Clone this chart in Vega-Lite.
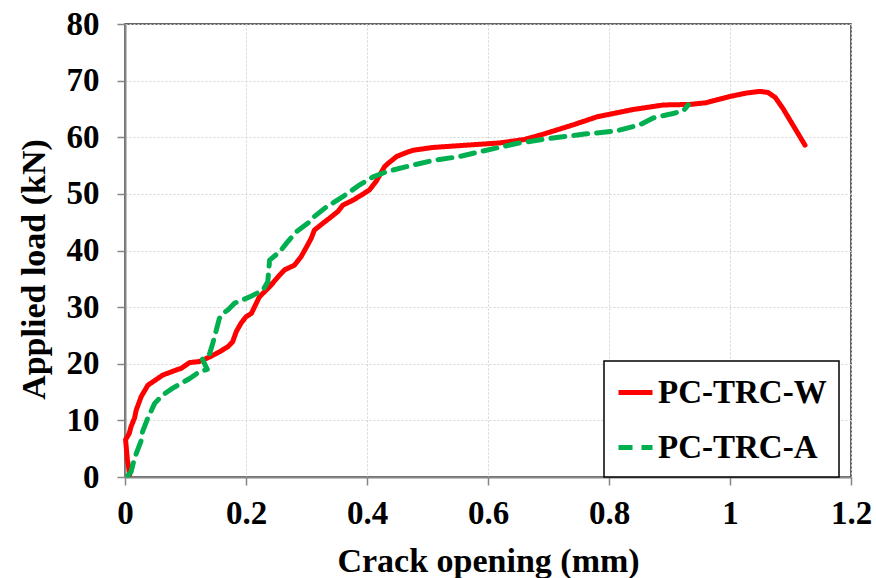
{
  "$schema": "https://vega.github.io/schema/vega-lite/v6.json",
  "autosize": {"type": "none"},
  "padding": {"left": 125, "top": 24, "right": 25, "bottom": 101},
  "width": 726,
  "height": 453,
  "background": "white",
  "config": {
    "view": {"stroke": "#333333", "strokeWidth": 1.5},
    "font": "Liberation Serif",
    "axis": {
      "grid": true,
      "gridColor": "#d4d4d4",
      "gridDash": [2, 2],
      "gridWidth": 1,
      "domainColor": "#868686",
      "domainWidth": 2,
      "tickColor": "#868686",
      "tickSize": 8,
      "tickWidth": 1.5,
      "labelFlush": false,
      "labelOverlap": false,
      "labelFont": "Liberation Serif",
      "labelFontWeight": "bold",
      "labelFontSize": 33,
      "labelColor": "black",
      "titleFont": "Liberation Serif",
      "titleFontWeight": "bold",
      "titleFontSize": 34,
      "titleColor": "black"
    },
    "legend": {
      "orient": "none",
      "legendX": 479,
      "legendY": 337,
      "strokeColor": "black",
      "strokeWidth": 1.5,
      "fillColor": "white",
      "padding": 12,
      "labelFont": "Liberation Serif",
      "labelFontWeight": "bold",
      "labelFontSize": 33,
      "labelColor": "black",
      "labelOffset": 3,
      "symbolType": "stroke",
      "symbolSize": 1156,
      "symbolStrokeWidth": 5,
      "rowPadding": 18,
      "labelLimit": 400
    }
  },
  "data": {
    "values": [
      {"s": "PC-TRC-W", "i": 1, "x": 0.008, "y": 0.5},
      {"s": "PC-TRC-W", "i": 2, "x": 0.004, "y": 3.0},
      {"s": "PC-TRC-W", "i": 3, "x": 0.002, "y": 5.4},
      {"s": "PC-TRC-W", "i": 4, "x": 0.001, "y": 6.6},
      {"s": "PC-TRC-W", "i": 5, "x": 0.007, "y": 7.7},
      {"s": "PC-TRC-W", "i": 6, "x": 0.010, "y": 8.9},
      {"s": "PC-TRC-W", "i": 7, "x": 0.0157, "y": 10.4},
      {"s": "PC-TRC-W", "i": 8, "x": 0.0185, "y": 11.8},
      {"s": "PC-TRC-W", "i": 9, "x": 0.0268, "y": 14.2},
      {"s": "PC-TRC-W", "i": 10, "x": 0.0377, "y": 16.2},
      {"s": "PC-TRC-W", "i": 11, "x": 0.046, "y": 16.8},
      {"s": "PC-TRC-W", "i": 12, "x": 0.0625, "y": 18.0},
      {"s": "PC-TRC-W", "i": 13, "x": 0.0847, "y": 18.9},
      {"s": "PC-TRC-W", "i": 14, "x": 0.093, "y": 19.2},
      {"s": "PC-TRC-W", "i": 15, "x": 0.1067, "y": 20.2},
      {"s": "PC-TRC-W", "i": 16, "x": 0.123, "y": 20.4},
      {"s": "PC-TRC-W", "i": 17, "x": 0.14, "y": 21.2},
      {"s": "PC-TRC-W", "i": 18, "x": 0.156, "y": 22.1},
      {"s": "PC-TRC-W", "i": 19, "x": 0.17, "y": 23.0},
      {"s": "PC-TRC-W", "i": 20, "x": 0.178, "y": 23.9},
      {"s": "PC-TRC-W", "i": 21, "x": 0.184, "y": 25.7},
      {"s": "PC-TRC-W", "i": 22, "x": 0.192, "y": 27.2},
      {"s": "PC-TRC-W", "i": 23, "x": 0.2, "y": 28.3},
      {"s": "PC-TRC-W", "i": 24, "x": 0.209, "y": 28.9},
      {"s": "PC-TRC-W", "i": 25, "x": 0.222, "y": 31.8},
      {"s": "PC-TRC-W", "i": 26, "x": 0.239, "y": 33.6},
      {"s": "PC-TRC-W", "i": 27, "x": 0.256, "y": 35.7},
      {"s": "PC-TRC-W", "i": 28, "x": 0.264, "y": 36.6},
      {"s": "PC-TRC-W", "i": 29, "x": 0.28, "y": 37.4},
      {"s": "PC-TRC-W", "i": 30, "x": 0.291, "y": 38.9},
      {"s": "PC-TRC-W", "i": 31, "x": 0.302, "y": 41.0},
      {"s": "PC-TRC-W", "i": 32, "x": 0.308, "y": 42.2},
      {"s": "PC-TRC-W", "i": 33, "x": 0.313, "y": 43.6},
      {"s": "PC-TRC-W", "i": 34, "x": 0.327, "y": 44.8},
      {"s": "PC-TRC-W", "i": 35, "x": 0.338, "y": 45.7},
      {"s": "PC-TRC-W", "i": 36, "x": 0.352, "y": 46.9},
      {"s": "PC-TRC-W", "i": 37, "x": 0.36, "y": 48.0},
      {"s": "PC-TRC-W", "i": 38, "x": 0.377, "y": 48.9},
      {"s": "PC-TRC-W", "i": 39, "x": 0.391, "y": 49.8},
      {"s": "PC-TRC-W", "i": 40, "x": 0.404, "y": 50.7},
      {"s": "PC-TRC-W", "i": 41, "x": 0.415, "y": 52.2},
      {"s": "PC-TRC-W", "i": 42, "x": 0.421, "y": 53.3},
      {"s": "PC-TRC-W", "i": 43, "x": 0.429, "y": 54.8},
      {"s": "PC-TRC-W", "i": 44, "x": 0.435, "y": 55.4},
      {"s": "PC-TRC-W", "i": 45, "x": 0.449, "y": 56.6},
      {"s": "PC-TRC-W", "i": 46, "x": 0.465, "y": 57.3},
      {"s": "PC-TRC-W", "i": 47, "x": 0.476, "y": 57.7},
      {"s": "PC-TRC-W", "i": 48, "x": 0.509, "y": 58.2},
      {"s": "PC-TRC-W", "i": 49, "x": 0.564, "y": 58.6},
      {"s": "PC-TRC-W", "i": 50, "x": 0.62, "y": 59.0},
      {"s": "PC-TRC-W", "i": 51, "x": 0.66, "y": 59.6},
      {"s": "PC-TRC-W", "i": 52, "x": 0.69, "y": 60.5},
      {"s": "PC-TRC-W", "i": 53, "x": 0.741, "y": 62.2},
      {"s": "PC-TRC-W", "i": 54, "x": 0.78, "y": 63.6},
      {"s": "PC-TRC-W", "i": 55, "x": 0.84, "y": 64.9},
      {"s": "PC-TRC-W", "i": 56, "x": 0.89, "y": 65.7},
      {"s": "PC-TRC-W", "i": 57, "x": 0.934, "y": 65.8},
      {"s": "PC-TRC-W", "i": 58, "x": 0.961, "y": 66.1},
      {"s": "PC-TRC-W", "i": 59, "x": 1.0, "y": 67.2},
      {"s": "PC-TRC-W", "i": 60, "x": 1.027, "y": 67.8},
      {"s": "PC-TRC-W", "i": 61, "x": 1.049, "y": 68.1},
      {"s": "PC-TRC-W", "i": 62, "x": 1.063, "y": 67.9},
      {"s": "PC-TRC-W", "i": 63, "x": 1.075, "y": 67.0},
      {"s": "PC-TRC-W", "i": 64, "x": 1.088, "y": 65.0},
      {"s": "PC-TRC-W", "i": 65, "x": 1.124, "y": 58.6},
      {"s": "PC-TRC-A", "i": 1, "x": 0.005, "y": 0.3},
      {"s": "PC-TRC-A", "i": 2, "x": 0.010, "y": 0.9},
      {"s": "PC-TRC-A", "i": 3, "x": 0.0157, "y": 3.3},
      {"s": "PC-TRC-A", "i": 4, "x": 0.027, "y": 6.5},
      {"s": "PC-TRC-A", "i": 5, "x": 0.029, "y": 8.0},
      {"s": "PC-TRC-A", "i": 6, "x": 0.0377, "y": 10.4},
      {"s": "PC-TRC-A", "i": 7, "x": 0.049, "y": 13.0},
      {"s": "PC-TRC-A", "i": 8, "x": 0.0625, "y": 14.5},
      {"s": "PC-TRC-A", "i": 9, "x": 0.079, "y": 15.7},
      {"s": "PC-TRC-A", "i": 10, "x": 0.107, "y": 17.4},
      {"s": "PC-TRC-A", "i": 11, "x": 0.123, "y": 18.6},
      {"s": "PC-TRC-A", "i": 12, "x": 0.136, "y": 19.0},
      {"s": "PC-TRC-A", "i": 13, "x": 0.128, "y": 20.8},
      {"s": "PC-TRC-A", "i": 14, "x": 0.14, "y": 21.8},
      {"s": "PC-TRC-A", "i": 15, "x": 0.145, "y": 23.6},
      {"s": "PC-TRC-A", "i": 16, "x": 0.151, "y": 26.0},
      {"s": "PC-TRC-A", "i": 17, "x": 0.156, "y": 28.0},
      {"s": "PC-TRC-A", "i": 18, "x": 0.162, "y": 28.9},
      {"s": "PC-TRC-A", "i": 19, "x": 0.17, "y": 29.5},
      {"s": "PC-TRC-A", "i": 20, "x": 0.181, "y": 30.7},
      {"s": "PC-TRC-A", "i": 21, "x": 0.206, "y": 31.8},
      {"s": "PC-TRC-A", "i": 22, "x": 0.228, "y": 33.0},
      {"s": "PC-TRC-A", "i": 23, "x": 0.236, "y": 34.5},
      {"s": "PC-TRC-A", "i": 24, "x": 0.239, "y": 38.3},
      {"s": "PC-TRC-A", "i": 25, "x": 0.256, "y": 39.8},
      {"s": "PC-TRC-A", "i": 26, "x": 0.267, "y": 41.3},
      {"s": "PC-TRC-A", "i": 27, "x": 0.283, "y": 43.3},
      {"s": "PC-TRC-A", "i": 28, "x": 0.302, "y": 44.8},
      {"s": "PC-TRC-A", "i": 29, "x": 0.313, "y": 46.0},
      {"s": "PC-TRC-A", "i": 30, "x": 0.333, "y": 47.7},
      {"s": "PC-TRC-A", "i": 31, "x": 0.36, "y": 49.5},
      {"s": "PC-TRC-A", "i": 32, "x": 0.388, "y": 51.6},
      {"s": "PC-TRC-A", "i": 33, "x": 0.41, "y": 53.0},
      {"s": "PC-TRC-A", "i": 34, "x": 0.432, "y": 53.9},
      {"s": "PC-TRC-A", "i": 35, "x": 0.465, "y": 54.8},
      {"s": "PC-TRC-A", "i": 36, "x": 0.509, "y": 55.9},
      {"s": "PC-TRC-A", "i": 37, "x": 0.553, "y": 56.6},
      {"s": "PC-TRC-A", "i": 38, "x": 0.581, "y": 57.3},
      {"s": "PC-TRC-A", "i": 39, "x": 0.647, "y": 58.9},
      {"s": "PC-TRC-A", "i": 40, "x": 0.702, "y": 59.8},
      {"s": "PC-TRC-A", "i": 41, "x": 0.763, "y": 60.6},
      {"s": "PC-TRC-A", "i": 42, "x": 0.812, "y": 61.1},
      {"s": "PC-TRC-A", "i": 43, "x": 0.851, "y": 62.2},
      {"s": "PC-TRC-A", "i": 44, "x": 0.873, "y": 63.4},
      {"s": "PC-TRC-A", "i": 45, "x": 0.906, "y": 64.2},
      {"s": "PC-TRC-A", "i": 46, "x": 0.923, "y": 64.7},
      {"s": "PC-TRC-A", "i": 47, "x": 0.931, "y": 65.7}
    ]
  },
  "mark": {"type": "line", "strokeWidth": 5, "strokeCap": "round", "strokeJoin": "round"},
  "encoding": {
    "x": {
      "field": "x",
      "type": "quantitative",
      "scale": {"domain": [0, 1.2], "nice": false, "zero": false},
      "axis": {
        "values": [0, 0.2, 0.4, 0.6, 0.8, 1, 1.2],
        "format": "~g",
        "labelPadding": 12,
        "title": "Crack opening (mm)",
        "titleBaseline": "alphabetic",
        "titleY": 94
      }
    },
    "y": {
      "field": "y",
      "type": "quantitative",
      "scale": {"domain": [0, 80], "nice": false},
      "axis": {
        "values": [0, 10, 20, 30, 40, 50, 60, 70, 80],
        "labelPadding": 18,
        "title": "Applied load (kN)",
        "titleBaseline": "alphabetic",
        "titleX": -81,
        "titleY": 245
      }
    },
    "order": {"field": "i", "type": "quantitative"},
    "color": {
      "field": "s",
      "type": "nominal",
      "scale": {"domain": ["PC-TRC-W", "PC-TRC-A"], "range": ["#FF0000", "#00B050"]},
      "legend": {"title": null}
    },
    "strokeDash": {
      "field": "s",
      "type": "nominal",
      "scale": {"domain": ["PC-TRC-W", "PC-TRC-A"], "range": [[1, 0], [14, 9]]},
      "legend": {"title": null}
    }
  }
}
